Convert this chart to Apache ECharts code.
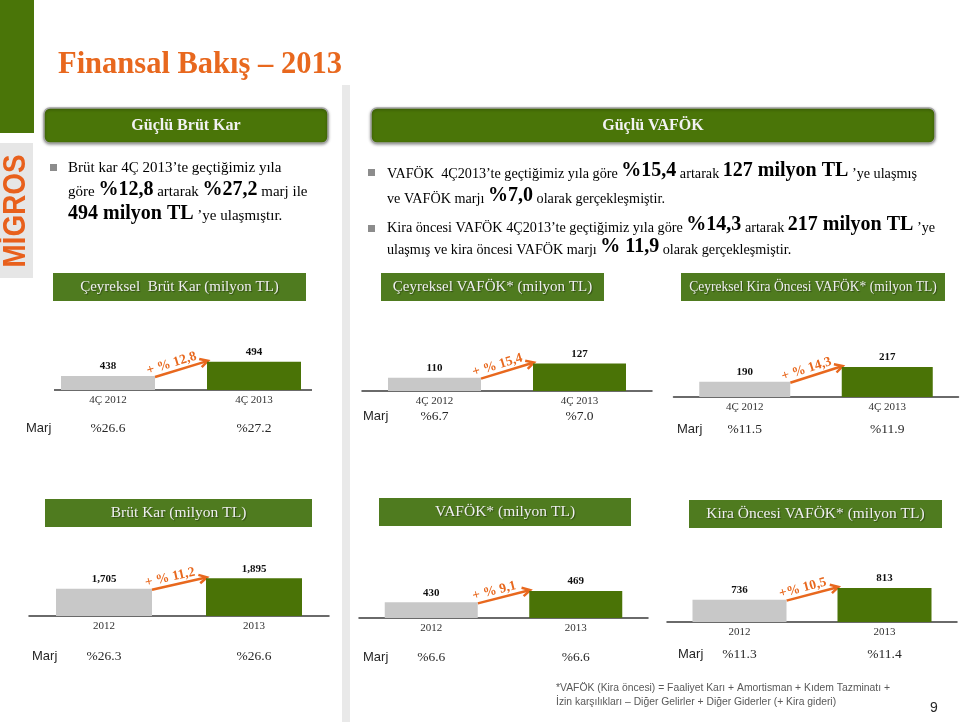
<!DOCTYPE html>
<html><head><meta charset="utf-8">
<script src="https://cdn.jsdelivr.net/npm/echarts@6/dist/echarts.min.js"></script>
<style>html,body{margin:0;padding:0;background:#fff}#c{width:960px;height:722px}</style>
</head><body><div id="c"></div>
<script>
// ---------- DATA ----------
const slideTitle = 'Finansal Bakış – 2013';
const sectionTitles = ['Güçlü Brüt Kar', 'Güçlü VAFÖK'];
const quarterCategories = ['4Ç 2012', '4Ç 2013'];
const yearCategories = ['2012', '2013'];
const qGrossProfit = [438, 494];
const qEbitda = [110, 127];
const qEbitdar = [190, 217];
const yGrossProfit = [1705, 1895];
const yEbitda = [430, 469];
const yEbitdar = [736, 813];
const qGrossMargin = ['%26.6', '%27.2'];
const qEbitdaMargin = ['%6.7', '%7.0'];
const qEbitdarMargin = ['%11.5', '%11.9'];
const yGrossMargin = ['%26.3', '%26.6'];
const yEbitdaMargin = ['%6.6', '%6.6'];
const yEbitdarMargin = ['%11.3', '%11.4'];
const growthLabels = ['+ % 12,8', '+ % 15,4', '+ % 14,3', '+ % 11,2', '+ % 9,1', '+% 10,5'];
const panelTitles = ['Çeyreksel  Brüt Kar (milyon TL)', 'Çeyreksel VAFÖK* (milyon TL)', 'Çeyreksel Kira Öncesi VAFÖK* (milyon TL)',
                     'Brüt Kar (milyon TL)', 'VAFÖK* (milyon TL)', 'Kira Öncesi VAFÖK* (milyon TL)'];
const marjLabel = 'Marj';
const leftBullet = [
  '{r|Brüt kar 4Ç 2013’te geçtiğimiz yıla}',
  '{r|göre }{b|%12,8}{r| artarak }{b|%27,2}{r| marj ile}',
  '{b|494 milyon TL}{r| ’ye ulaşmıştır.}'
];
const rightBullets = [
  '{r|VAFÖK  4Ç2013’te geçtiğimiz yıla göre }{b|%15,4}{r| artarak }{b|127 milyon TL}{r| ’ye ulaşmış}',
  '{r|ve VAFÖK marjı }{b|%7,0}{r| olarak gerçekleşmiştir.}',
  '{r|Kira öncesi VAFÖK 4Ç2013’te geçtiğimiz yıla göre }{b|%14,3}{r| artarak }{b|217 milyon TL}{r| ’ye}',
  '{r|ulaşmış ve kira öncesi VAFÖK marjı }{b|% 11,9}{r| olarak gerçekleşmiştir.}'
];
const footnoteLines = ['*VAFÖK (Kira öncesi) = Faaliyet Karı + Amortisman + Kıdem Tazminatı +',
                       'İzin karşılıkları – Diğer Gelirler + Diğer Giderler (+ Kira gideri)'];
const pageNumber = '9';
const logoText = 'MİGROS';

// ---------- LAYOUT / STYLE ----------
const GREEN = '#4a7508', GREEN2 = '#4f7b1f', BAR_GREEN = '#4a7306', BAR_GRAY = '#c8c8c8', ORANGE = '#e8681e';
const SERIF = '"Liberation Serif", serif';

const panels = [
  {cats: quarterCategories, vals: qGrossProfit, marj: qGrossMargin, grid: {left: 35, top: 330, width: 292, height: 60}, min: 383, max: 619, bw: 94, marjOff: 26, marjPos: [26, 428], box: [53, 273, 253, 28], titleScale: 1, axisSpan: [54, 312]},
  {cats: quarterCategories, vals: qEbitda, marj: qEbitdaMargin, grid: {left: 362, top: 331, width: 290, height: 60}, min: 94, max: 166, bw: 93, marjOff: 13, marjPos: [363, 416], box: [381, 273, 223, 28], titleScale: 1},
  {cats: quarterCategories, vals: qEbitdar, marj: qEbitdarMargin, grid: {left: 673.5, top: 337, width: 285, height: 60}, min: 162, max: 272, bw: 91, marjOff: 20, marjPos: [677, 429], box: [681, 273, 264, 28], titleScale: 0.9},
  {cats: yearCategories, vals: yGrossProfit, marj: yGrossMargin, grid: {left: 29, top: 556, width: 300, height: 60}, min: 1205, max: 2304, bw: 96, marjOff: 28, marjPos: [32, 656], box: [45, 499, 267, 28], titleScale: 1},
  {cats: yearCategories, vals: yEbitda, marj: yEbitdaMargin, grid: {left: 359, top: 558, width: 289, height: 60}, min: 376, max: 583, bw: 93, marjOff: 27, marjPos: [363, 657], box: [379, 498, 252, 28], titleScale: 1},
  {cats: yearCategories, vals: yEbitdar, marj: yEbitdarMargin, grid: {left: 667, top: 562, width: 290, height: 60}, min: 588, max: 985, bw: 94, marjOff: 20, marjPos: [678, 654], box: [689, 500, 253, 28], titleScale: 1}
];

const chart = echarts.init(document.getElementById('c'), null, {renderer: 'canvas'});

const grids = [], xAxes = [], yAxes = [], series = [];
panels.forEach((p, i) => {
  grids.push(Object.assign({}, p.grid));
  xAxes.push({
    gridIndex: i, type: 'category', data: p.cats, position: 'bottom',
    axisLine: {show: !p.axisSpan, lineStyle: {color: '#3a3a3a', width: 1.5}},
    axisTick: {show: false},
    axisLabel: {interval: 0, margin: 5, color: '#333333', fontFamily: SERIF, fontSize: 11}
  });
  xAxes.push({
    gridIndex: i, type: 'category', data: p.marj, position: 'bottom', offset: p.marjOff,
    axisLine: {show: false}, axisTick: {show: false},
    axisLabel: {interval: 0, margin: 5, color: '#262626', fontFamily: SERIF, fontSize: 13.5}
  });
  yAxes.push({gridIndex: i, type: 'value', min: p.min, max: p.max, show: false, splitLine: {show: false}});
  series.push({
    type: 'bar', xAxisIndex: 2 * i, yAxisIndex: i, data: p.vals, barWidth: p.bw,
    itemStyle: {color: (d) => d.dataIndex === 0 ? BAR_GRAY : BAR_GREEN},
    label: {show: true, position: 'top', distance: 4, color: '#111', fontFamily: SERIF, fontWeight: 'bold', fontSize: 11,
            formatter: (d) => Number(d.value).toLocaleString('en-US')},
    silent: true
  });
});

const staticGraphics = [];
staticGraphics.push({type: 'rect', shape: {x: 0, y: 0, width: 34, height: 133}, style: {fill: GREEN}});
staticGraphics.push({type: 'rect', shape: {x: 0, y: 143, width: 33, height: 135}, style: {fill: '#e6e6e6'}});
staticGraphics.push({type: 'text', x: 16.5, y: 211, rotation: Math.PI / 2, scaleX: 0.87,
  style: {text: logoText, font: 'bold 32px "Liberation Sans", sans-serif', fill: '#e8601c', align: 'center', verticalAlign: 'middle'}});
staticGraphics.push({type: 'rect', shape: {x: 342, y: 85, width: 8, height: 637}, style: {fill: '#e9e9e9'}});
staticGraphics.push({type: 'text', x: 58, y: 81,
  style: {text: slideTitle, font: 'bold 30.5px "Liberation Serif", serif', fill: ORANGE, align: 'left', verticalAlign: 'bottom'}});
[[44, 108, 284, 35], [371, 108, 564, 35]].forEach((r, i) => {
  staticGraphics.push({type: 'rect', shape: {x: r[0], y: r[1], width: r[2], height: r[3], r: 6},
    style: {fill: GREEN, stroke: '#a5a5a5', lineWidth: 1.5, shadowBlur: 3, shadowOffsetY: 1, shadowColor: 'rgba(0,0,0,0.35)'}});
  staticGraphics.push({type: 'text', x: r[0] + r[2] / 2, y: r[1] + r[3] / 2,
    style: {text: sectionTitles[i], font: 'bold 16px "Liberation Serif", serif', fill: '#f2f2f2', align: 'center', verticalAlign: 'middle'}});
});
const richL = {
  r: {fontFamily: SERIF, fontSize: 15, color: '#404040', verticalAlign: 'bottom'},
  b: {fontFamily: SERIF, fontSize: 20, fontWeight: 'bold', color: '#404040', verticalAlign: 'bottom'}
};
staticGraphics.push({type: 'rect', shape: {x: 50, y: 164, width: 7, height: 7}, style: {fill: '#8c8c8c'}});
[176, 200, 224].forEach((y, k) => {
  staticGraphics.push({type: 'text', x: 68, y: y, style: {text: leftBullet[k], rich: richL, align: 'left', verticalAlign: 'bottom'}});
});
const richR = {
  r: {fontFamily: SERIF, fontSize: 14.2, color: '#404040', verticalAlign: 'bottom'},
  b: {fontFamily: SERIF, fontSize: 20, fontWeight: 'bold', color: '#404040', verticalAlign: 'bottom'}
};
staticGraphics.push({type: 'rect', shape: {x: 368, y: 169, width: 7, height: 7}, style: {fill: '#8c8c8c'}});
staticGraphics.push({type: 'rect', shape: {x: 368, y: 225, width: 7, height: 7}, style: {fill: '#8c8c8c'}});
[181, 206, 235, 257].forEach((y, k) => {
  staticGraphics.push({type: 'text', x: 387, y: y, style: {text: rightBullets[k], rich: richR, align: 'left', verticalAlign: 'bottom'}});
});
panels.forEach((p, i) => {
  const b = p.box;
  staticGraphics.push({type: 'rect', shape: {x: b[0], y: b[1], width: b[2], height: b[3]}, style: {fill: GREEN2}});
  staticGraphics.push({type: 'text', x: b[0] + b[2] / 2, y: b[1] + b[3] / 2, scaleX: p.titleScale,
    style: {text: panelTitles[i], font: (i < 3 ? '15px' : '15.5px') + ' "Liberation Serif", serif', fill: '#efefef',
            align: 'center', verticalAlign: 'middle', textShadowColor: 'rgba(0,0,0,0.4)', textShadowBlur: 1, textShadowOffsetX: 1, textShadowOffsetY: 1}});
  staticGraphics.push({type: 'text', x: p.marjPos[0], y: p.marjPos[1],
    style: {text: marjLabel, font: '13px "Liberation Sans", sans-serif', fill: '#262626', align: 'left', verticalAlign: 'middle'}});
});
staticGraphics.push({type: 'text', x: 556, y: 688, scaleX: 0.9,
  style: {text: footnoteLines[0], font: '11.5px "Liberation Sans", sans-serif', fill: '#595959', align: 'left', verticalAlign: 'middle'}});
staticGraphics.push({type: 'text', x: 556, y: 702, scaleX: 0.9,
  style: {text: footnoteLines[1], font: '11.5px "Liberation Sans", sans-serif', fill: '#595959', align: 'left', verticalAlign: 'middle'}});
staticGraphics.push({type: 'text', x: 934, y: 708,
  style: {text: pageNumber, font: '14px "Liberation Sans", sans-serif', fill: '#262626', align: 'center', verticalAlign: 'middle'}});

chart.setOption({
  animation: false,
  backgroundColor: '#ffffff',
  grid: grids, xAxis: xAxes, yAxis: yAxes, series: series,
  graphic: staticGraphics
});

const dynGraphics = [];
panels.forEach((p, i) => {
  const a = chart.convertToPixel({seriesIndex: i}, [0, p.vals[0]]);
  const b = chart.convertToPixel({seriesIndex: i}, [1, p.vals[1]]);
  if (p.axisSpan) {
    const yb = chart.convertToPixel({seriesIndex: i}, [0, p.min])[1];
    dynGraphics.push({type: 'line', shape: {x1: p.axisSpan[0], y1: yb, x2: p.axisSpan[1], y2: yb}, style: {stroke: '#3a3a3a', lineWidth: 1.5}});
  }
  const x1 = a[0] + p.bw / 2, y1 = a[1] + 1;
  const x2 = b[0] - p.bw / 2 + 1, y2 = b[1] - 1;
  const dx = x2 - x1, dy = y2 - y1, len = Math.sqrt(dx * dx + dy * dy);
  const ux = dx / len, uy = dy / len;
  const ang = Math.atan2(-dy, dx);
  const head = 9, spread = 0.5;
  const hx1 = x2 - head * (ux * Math.cos(spread) - uy * Math.sin(spread));
  const hy1 = y2 - head * (uy * Math.cos(spread) + ux * Math.sin(spread));
  const hx2 = x2 - head * (ux * Math.cos(-spread) - uy * Math.sin(-spread));
  const hy2 = y2 - head * (uy * Math.cos(-spread) + ux * Math.sin(-spread));
  dynGraphics.push({type: 'line', shape: {x1: x1, y1: y1, x2: x2 - ux, y2: y2 - uy}, style: {stroke: ORANGE, lineWidth: 2.5}});
  dynGraphics.push({type: 'polyline', shape: {points: [[hx1, hy1], [x2, y2], [hx2, hy2]]}, style: {stroke: ORANGE, lineWidth: 2.5, fill: null}});
  const mx = (x1 + x2) / 2 - 8 * ux + 8 * uy, my = (y1 + y2) / 2 - 8 * uy - 8 * ux;
  dynGraphics.push({type: 'text', x: mx, y: my, rotation: ang,
    style: {text: growthLabels[i], font: 'bold 13.5px "Liberation Serif", serif', fill: ORANGE, align: 'center', verticalAlign: 'middle'}});
});
chart.setOption({graphic: staticGraphics.concat(dynGraphics)});
</script>
</body></html>
